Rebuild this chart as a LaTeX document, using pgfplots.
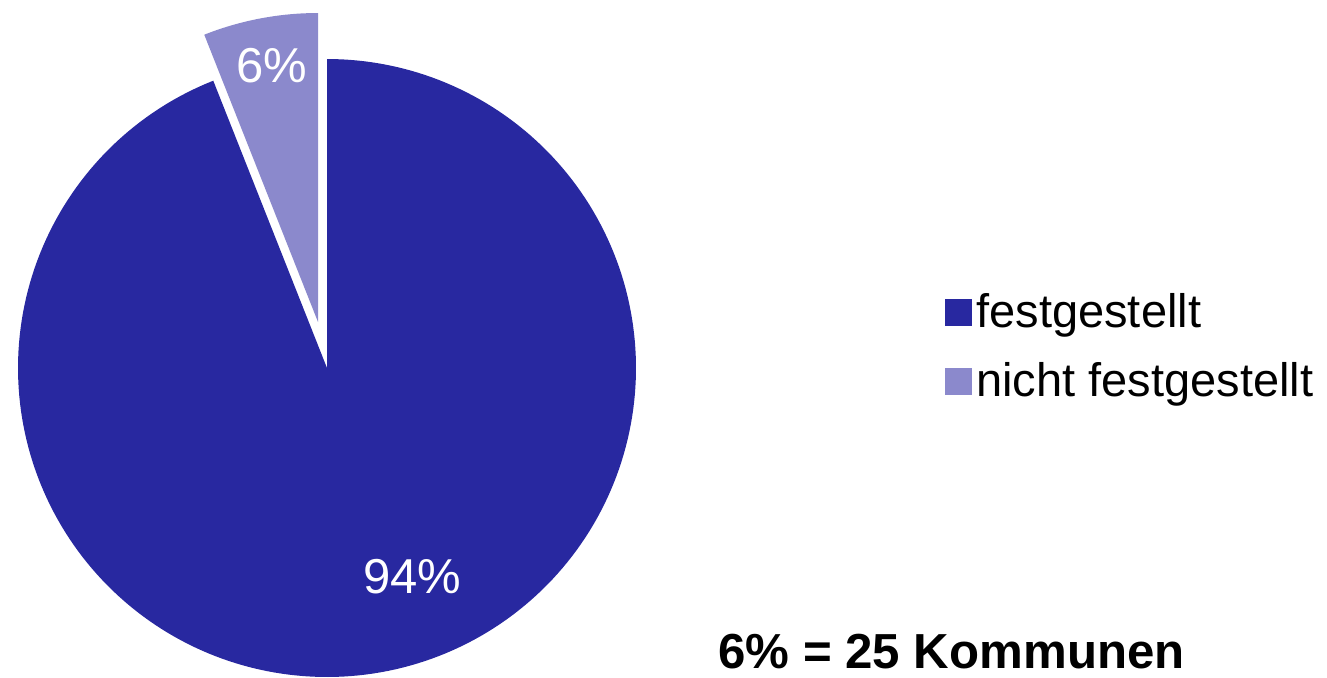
\documentclass[border=0pt]{standalone}
\usepackage{fontspec}
\setmainfont{Liberation Sans}
\usepackage{pgfplots}
\pgfplotsset{compat=1.18}
\definecolor{dark}{RGB}{40,40,160}
\definecolor{light}{RGB}{139,137,204}
\def\valA{94}
\def\valB{6}
\begin{document}
\begin{tikzpicture}
\begin{axis}[
  hide axis, scale only axis, width=663.5pt, height=338.5pt,
  xmin=0, xmax=1327, ymin=0, ymax=677, clip=false,
  legend style={at={(axis cs:945,330.5)}, anchor=west, draw=none, fill=none,
    font=\fontsize{23.5}{26}\selectfont,
    row sep=12.4pt, inner sep=0pt, cells={anchor=west},
    /tikz/every even column/.append style={column sep=5.5pt}},
  legend image code/.code={\fill[#1] (0pt,-7pt) rectangle (13.5pt,6.5pt);},
]
\addplot[fill=dark, draw=none, domain={90+3.6*\valB}:450, samples=240, variable=\t]
  ({327+309*cos(t)},{309+309*sin(t)}) -- (axis cs:327,309) -- cycle;
\addlegendentry{festgestellt}
\addplot[fill=light, draw=none, domain=90:{90+3.6*\valB}, samples=40, variable=\t]
  ({318+309*cos(t)},{355+309*sin(t)}) -- (axis cs:318,355) -- cycle;
\addlegendentry{nicht festgestellt}
\node[text=white, font=\fontsize{24.5}{28}\selectfont, anchor=base] at (axis cs:271.5,595) {\valB\%};
\node[text=white, font=\fontsize{24.5}{28}\selectfont, anchor=base] at (axis cs:412.5,84) {\valA\%};
\node[font=\fontsize{24.6}{28}\selectfont\bfseries, anchor=base] at (axis cs:951.5,9) {6\% = 25 Kommunen};
\coordinate (ll) at (axis cs:0,0);
\coordinate (ur) at (axis cs:1327,677);
\end{axis}
\pgfresetboundingbox
\path (ll) rectangle (ur);
\end{tikzpicture}
\end{document}
